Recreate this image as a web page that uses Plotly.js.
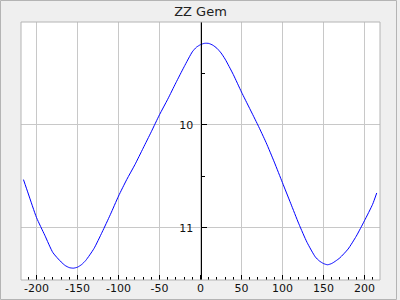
<!DOCTYPE html>
<html>
<head>
<meta charset="utf-8">
<script src="https://cdn.plot.ly/plotly-3.0.1.min.js"></script>
<style>html,body{margin:0;padding:0;background:#efefef;}#chart{width:400px;height:300px;}</style>
</head>
<body>
<div id="chart"></div>
<script>
const phase = [-216, -210, -200, -190, -180, -170, -165, -160, -155, -150, -145, -140, -130, -120, -110, -100, -90, -80, -70, -60, -50, -40, -30, -20, -10, -5, 0, 5, 10, 15, 20, 25, 30, 40, 50, 60, 70, 80, 90, 100, 110, 120, 130, 140, 145, 150, 155, 160, 165, 170, 180, 190, 200, 210, 215];
const magnitude = [10.53, 10.67, 10.90, 11.07, 11.24, 11.33, 11.365, 11.385, 11.39, 11.38, 11.355, 11.315, 11.20, 11.04, 10.87, 10.69, 10.53, 10.385, 10.225, 10.065, 9.90, 9.75, 9.59, 9.435, 9.29, 9.245, 9.22, 9.207, 9.208, 9.225, 9.255, 9.30, 9.36, 9.51, 9.68, 9.84, 10.00, 10.17, 10.36, 10.56, 10.76, 10.96, 11.14, 11.28, 11.32, 11.345, 11.357, 11.345, 11.32, 11.29, 11.205, 11.08, 10.93, 10.77, 10.66];
const xTickVals = [-200, -150, -100, -50, 0, 50, 100, 150, 200];
const xTickText = ['-200', '-150', '-100', '-50', '0', '50', '100', '150', '200'];
const yTickVals = [10, 11];
const yTickText = ['10', '11'];
const xRange = [-219, 219];
const yRange = [11.505, 9.0];

const L = 21, T = 22, W = 359, H = 258;
const px2x = p => (p - L) / W;
const py2y = p => (T + H - p) / H;

const trace = {
  x: phase, y: magnitude, type: 'scatter', mode: 'lines',
  line: {color: '#0000ff', width: 1, shape: 'spline', smoothing: 0.6}, hoverinfo: 'none'
};

const layout = {
  width: 400, height: 300,
  margin: {l: L, r: 400 - L - W, t: T, b: 300 - T - H},
  paper_bgcolor: '#efefef', plot_bgcolor: '#ffffff',
  showlegend: false,
  font: {family: 'DejaVu Sans', size: 11, color: '#000'},
  title: {text: 'ZZ Gem', x: 0.5, xref: 'paper', xanchor: 'center', y: 1 - 11/300, yanchor: 'middle', font: {family: 'DejaVu Sans', size: 13, color: '#222'}},
  xaxis: {
    range: xRange, tickvals: xTickVals, ticktext: xTickText,
    ticks: 'inside', ticklen: 5, tickcolor: '#000', tickwidth: 1,
    minor: {dtick: 10, tick0: 0, ticks: 'inside', ticklen: 3, tickcolor: '#000', showgrid: false},
    showgrid: true, gridcolor: '#c8c8c8', gridwidth: 1,
    zeroline: false, showline: false,
    tickfont: {family: 'DejaVu Sans', size: 11, color: '#111'}
  },
  yaxis: {
    range: yRange, tickvals: yTickVals, ticktext: yTickText,
    anchor: 'free', position: (0 - xRange[0]) / (xRange[1] - xRange[0]),
    ticks: 'inside', ticklen: 5, tickcolor: '#000', tickwidth: 1,
    ticklabelstandoff: 5,
    minor: {dtick: 0.5, tick0: 0, ticks: 'inside', ticklen: 3, tickcolor: '#000', showgrid: false},
    showgrid: true, gridcolor: '#c8c8c8', gridwidth: 1,
    zeroline: false, showline: true, linecolor: '#000', linewidth: 1,
    tickfont: {family: 'DejaVu Sans', size: 11, color: '#111'}
  },
  shapes: [
    {type: 'rect', xref: 'paper', yref: 'paper', x0: 0, x1: 1, y0: 0, y1: 1, line: {color: '#b4b4b4', width: 1}, layer: 'above'},
    {type: 'rect', xref: 'paper', yref: 'paper', x0: px2x(0.5), x1: px2x(396.5), y0: py2y(299.5), y1: py2y(0.5), line: {color: '#b4b4b4', width: 1}, layer: 'below'}
  ]
};

Plotly.newPlot('chart', [trace], layout, {staticPlot: true, displayModeBar: false});
</script>
</body>
</html>
